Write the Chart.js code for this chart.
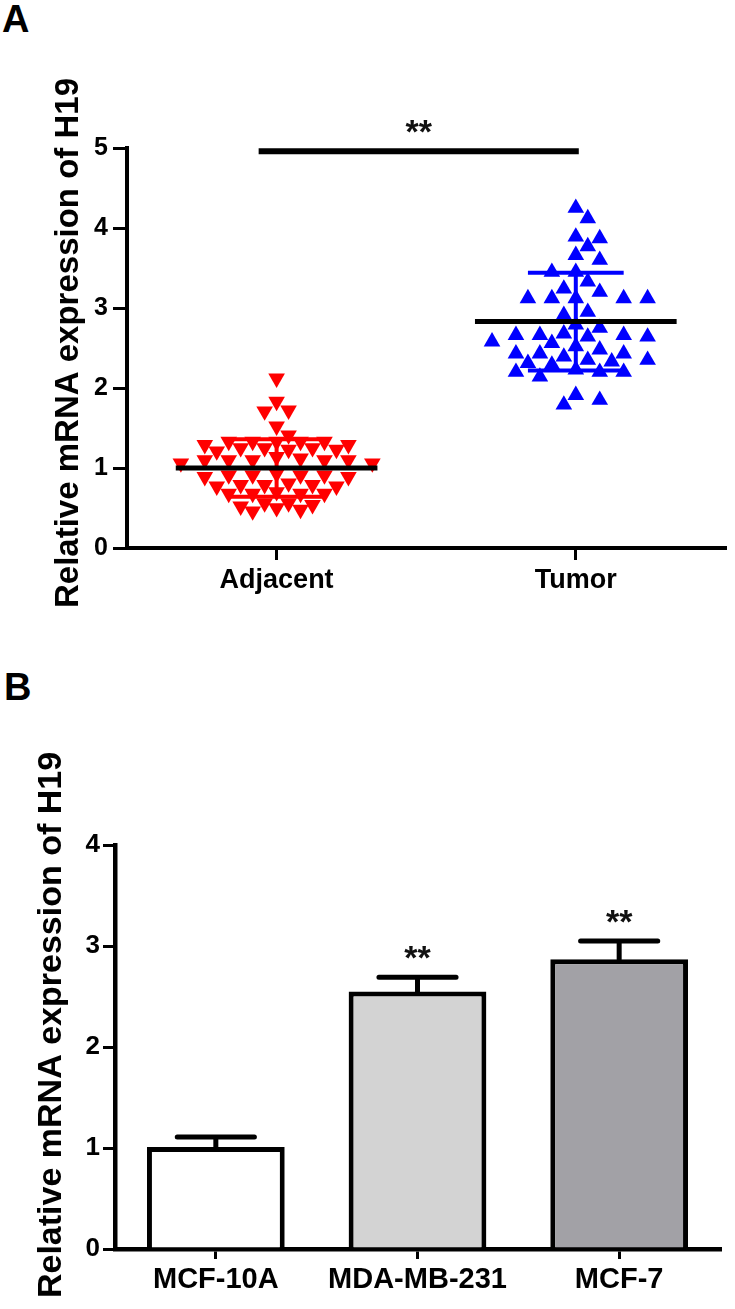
<!DOCTYPE html>
<html>
<head>
<meta charset="utf-8">
<script src="https://cdn.jsdelivr.net/npm/chart.js@4.4.0/dist/chart.umd.min.js"></script>
<style>
html,body{margin:0;padding:0;background:#fff;width:735px;height:1309px;overflow:hidden;}
#wrap{position:relative;width:735px;height:1309px;}
canvas{position:absolute;left:0;top:0;}
.lbl{position:absolute;font-family:'Liberation Sans',Arial,sans-serif;font-weight:bold;font-size:38px;line-height:1;color:#000;}
</style>
</head>
<body>
<div id="wrap">
  <div class="lbl" style="left:2px;top:0px">A</div>
  <div class="lbl" style="left:4px;top:668px">B</div>
  <div style="position:absolute;left:0;top:0;width:735px;height:640px"><canvas id="cA" width="735" height="640"></canvas></div>
  <div style="position:absolute;left:0;top:650px;width:735px;height:659px"><canvas id="cB" width="735" height="659"></canvas></div>
</div>
<script>
// ---------------- data ----------------
const yTitle = 'Relative mRNA expression of H19';

// Panel A
const categoriesA = ['Adjacent', 'Tumor'];
const adjacentValues = [
  2.12, 1.83, 1.72, 1.71, 1.52, 1.41,
  1.33, 1.33, 1.33, 1.33, 1.29, 1.29, 1.33,
  1.25, 1.14, 1.25, 1.23, 1.25, 1.23, 1.21,
  1.06, 1.10, 1.10, 1.10, 1.12, 1.10, 1.10, 1.06,
  0.89, 0.91, 0.91, 0.93, 0.91, 0.89, 0.91,
  0.79, 0.77, 0.79, 0.79, 0.77, 0.81,
  0.68, 0.68, 0.70, 0.68, 0.68,
  0.56, 0.54, 0.50, 0.46, 0.48, 0.52, 0.56
];
const tumorValues = [
  4.25, 4.12, 3.87, 3.89, 3.77, 3.66, 3.60, 3.45, 3.45, 3.33,
  3.20, 3.24, 3.12, 3.12, 3.12, 3.12, 3.12, 2.95, 2.91, 2.79,
  2.66, 2.66, 2.66, 2.64, 2.64, 2.75, 2.68, 2.56, 2.58, 2.43,
  2.43, 2.43, 2.39, 2.52, 2.48, 2.29, 2.20, 2.20, 2.20, 2.35,
  2.35, 2.31, 2.14, 2.33, 2.23, 1.91, 1.79, 1.85
];
const meansA = [1.00, 2.83];
const sdA = [0.36, 0.61];
const yTicksA = [0, 1, 2, 3, 4, 5];
const sigBarAx = [-0.06, 1.01];
const sigBarAy = 4.96;
const sigLabelA = '**';

// Panel B
const categoriesB = ['MCF-10A', 'MDA-MB-231', 'MCF-7'];
const meansB = [1.01, 2.55, 2.87];
const sdB = [0.10, 0.14, 0.18];
const sigLabelsB = ['', '**', '**'];
const yTicksB = [0, 1, 2, 3, 4];

// ---------------- styles ----------------
const FONT = "'Liberation Sans', Arial, Helvetica, sans-serif";
const barColorsB = ['#ffffff', '#d3d3d3', '#a2a1a6'];

// Prism-like column scatter layout (computed from values)
function swarm(values, center, sameRow) {
  const slot = 0.04, fullGap = 0.075, halfGap = 0.035, nearRow = 0.17;
  const order = values.map((v, i) => i).sort((a, b) => values[b] - values[a]);
  const placed = [];
  const out = new Array(values.length);
  for (const i of order) {
    const v = values[i];
    for (let k = 0; k < 60; k++) {
      const off = (k === 0 ? 0 : (k % 2 === 1 ? (k + 1) / 2 : -k / 2)) * slot;
      const x = center + off;
      const clash = placed.some(p => {
        const dy = Math.abs(p.y - v), dx = Math.abs(p.x - x);
        if (dy < sameRow) return dx < fullGap;
        if (dy < nearRow) return dx < halfGap;
        return false;
      });
      if (!clash) { placed.push({x, y: v}); out[i] = {x, y: v}; break; }
    }
  }
  return out;
}

function meanLine(i, m) {
  const hw = 0.337;
  return [{x: i - hw, y: m}, {x: i + hw, y: m}];
}
function sdLines(i, m, s) {
  const cw = 0.16;
  return [
    {x: i - cw, y: m + s}, {x: i + cw, y: m + s}, {x: i, y: null},
    {x: i, y: m + s}, {x: i, y: m - s}, {x: i, y: null},
    {x: i - cw, y: m - s}, {x: i + cw, y: m - s}
  ];
}

const tickGrid = (len, w) => ({display: true, drawOnChartArea: false, drawTicks: true,
  tickLength: len, tickWidth: w, tickColor: '#000', color: '#000', lineWidth: w});

const annotA = {
  id: 'annotA',
  afterDraw(chart) {
    const {ctx, scales: {x, y}} = chart;
    ctx.save();
    ctx.fillStyle = '#000';
    ctx.font = `bold 33px ${FONT}`;
    ctx.textAlign = 'center';
    ctx.textBaseline = 'middle';
    ctx.translate(69, 343);
    ctx.rotate(-Math.PI / 2);
    ctx.fillText(yTitle, 0, 0);
    ctx.restore();
    ctx.save();
    ctx.fillStyle = '#111';
    ctx.font = `bold 34px ${FONT}`;
    ctx.textAlign = 'center';
    ctx.textBaseline = 'alphabetic';
    const cx = (x.getPixelForValue(sigBarAx[0]) + x.getPixelForValue(sigBarAx[1])) / 2;
    ctx.fillText(sigLabelA, cx, y.getPixelForValue(sigBarAy) - 8);
    ctx.restore();
  }
};

new Chart(document.getElementById('cA'), {
  type: 'scatter',
  data: {
    datasets: [
      {label: categoriesA[0], data: swarm(adjacentValues, 0, 0.06), pointStyle: 'triangle', rotation: 180,
       pointRadius: 9.6, backgroundColor: '#ff0000', borderColor: '#ff0000', borderWidth: 0, order: 5},
      {label: categoriesA[1], data: swarm(tumorValues, 1, 0.09), pointStyle: 'triangle', rotation: 0,
       pointRadius: 9.6, backgroundColor: '#0000ff', borderColor: '#0000ff', borderWidth: 0, order: 5},
      {type: 'line', data: sdLines(0, meansA[0], sdA[0]), borderColor: '#ff0000', borderWidth: 4,
       pointRadius: 0, spanGaps: false, order: 3},
      {type: 'line', data: sdLines(1, meansA[1], sdA[1]), borderColor: '#0000ff', borderWidth: 4,
       pointRadius: 0, spanGaps: false, order: 3},
      {type: 'line', data: meanLine(0, meansA[0]), borderColor: '#000', borderWidth: 5, pointRadius: 0, order: 1},
      {type: 'line', data: meanLine(1, meansA[1]), borderColor: '#000', borderWidth: 5, pointRadius: 0, order: 1},
      {type: 'line', data: sigBarAx.map(v => ({x: v, y: sigBarAy})), borderColor: '#000', borderWidth: 6,
       pointRadius: 0, borderCapStyle: 'butt', order: 1}
    ]
  },
  options: {
    responsive: false, animation: false, devicePixelRatio: 1,
    layout: {padding: {left: 0, top: 148, right: 6, bottom: 0}},
    plugins: {legend: {display: false}, tooltip: {enabled: false}},
    scales: {
      x: {
        type: 'linear', min: -0.5, max: 1.5,
        afterBuildTicks: s => { s.ticks = categoriesA.map((c, i) => ({value: i})); },
        afterFit: s => { s.height = 92; },
        ticks: {callback: v => categoriesA[v], font: {family: FONT, size: 27, weight: 'bold'},
                color: '#000', padding: 4, maxRotation: 0, autoSkip: false},
        grid: tickGrid(12, 3),
        border: {display: true, color: '#000', width: 4}
      },
      y: {
        min: 0, max: 5,
        afterBuildTicks: s => { s.ticks = yTicksA.map(v => ({value: v})); },
        afterFit: s => { s.width = 127; },
        ticks: {font: {family: FONT, size: 25, weight: 'bold'}, color: '#000', padding: 5},
        grid: tickGrid(14, 3),
        border: {display: true, color: '#000', width: 4}
      }
    }
  },
  plugins: [annotA]
});

const annotB = {
  id: 'annotB',
  afterDatasetsDraw(chart) {
    const {ctx, scales: {x, y}} = chart;
    const meta = chart.getDatasetMeta(0);
    ctx.save();
    ctx.strokeStyle = '#000';
    ctx.lineWidth = 5;
    ctx.lineCap = 'round';
    meansB.forEach((m, i) => {
      const px = x.getPixelForValue(i);
      const top = y.getPixelForValue(m + sdB[i]);
      const base = y.getPixelForValue(m);
      const hw = meta.data[i].width * 0.28;
      ctx.beginPath();
      ctx.moveTo(px, base); ctx.lineTo(px, top);
      ctx.moveTo(px - hw, top); ctx.lineTo(px + hw, top);
      ctx.stroke();
      if (sigLabelsB[i]) {
        ctx.fillStyle = '#111';
        ctx.font = `bold 34px ${FONT}`;
        ctx.textAlign = 'center';
        ctx.textBaseline = 'alphabetic';
        ctx.fillText(sigLabelsB[i], px, top - 8);
      }
    });
    ctx.restore();
  },
  afterDraw(chart) {
    const {ctx} = chart;
    ctx.save();
    ctx.fillStyle = '#000';
    ctx.font = `bold 34px ${FONT}`;
    ctx.textAlign = 'center';
    ctx.textBaseline = 'middle';
    ctx.translate(52, 375);
    ctx.rotate(-Math.PI / 2);
    ctx.fillText(yTitle, 0, 0);
    ctx.restore();
  }
};

new Chart(document.getElementById('cB'), {
  type: 'bar',
  data: {
    labels: categoriesB,
    datasets: [{data: meansB, backgroundColor: barColorsB, borderColor: '#000', borderWidth: 5,
                borderSkipped: 'start', barPercentage: 0.683, categoryPercentage: 1}]
  },
  options: {
    responsive: false, animation: false, devicePixelRatio: 1,
    layout: {padding: {left: 0, top: 195, right: 15, bottom: 0}},
    plugins: {legend: {display: false}, tooltip: {enabled: false}},
    scales: {
      x: {
        offset: true, z: 1,
        afterFit: s => { s.height = 60; },
        ticks: {font: {family: FONT, size: 29, weight: 'bold'}, color: '#000', padding: 4, maxRotation: 0, autoSkip: false},
        grid: Object.assign(tickGrid(10, 3), {offset: false}),
        border: {display: true, color: '#000', width: 4.5}
      },
      y: {
        min: 0, max: 4, z: 1,
        afterBuildTicks: s => { s.ticks = yTicksB.map(v => ({value: v})); },
        afterFit: s => { s.width = 115; },
        ticks: {font: {family: FONT, size: 26, weight: 'bold'}, color: '#000', padding: 3},
        grid: tickGrid(12, 3),
        border: {display: true, color: '#000', width: 4.5}
      }
    }
  },
  plugins: [annotB]
});
</script>
</body>
</html>
